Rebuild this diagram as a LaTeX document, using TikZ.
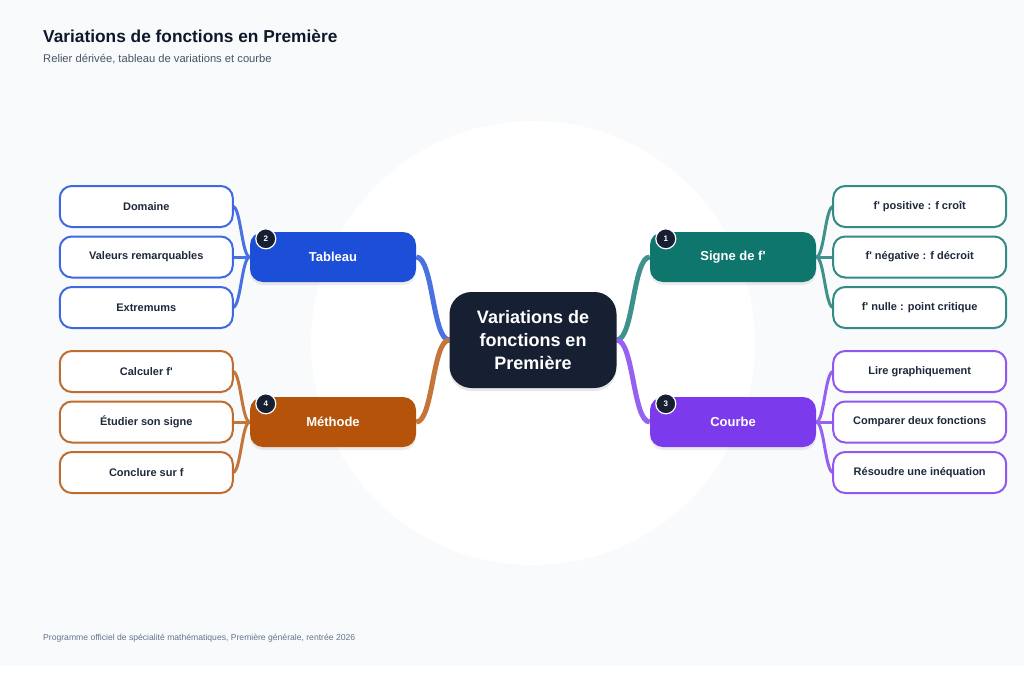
\documentclass[tikz,border=0pt]{standalone}
\usepackage{fontspec}
\setmainfont{Liberation Sans}
\usepackage{xcolor}
\usetikzlibrary{positioning, calc, shadows}
\definecolor{pagebg}{HTML}{F8FAFC}
\definecolor{ink}{HTML}{0F172A}
\definecolor{hub}{HTML}{172033}
\definecolor{subgray}{HTML}{475569}
\definecolor{footgray}{HTML}{64748B}
\definecolor{leafink}{HTML}{1E293B}
\definecolor{cblue}{HTML}{1D4ED8}
\definecolor{cteal}{HTML}{0F766E}
\definecolor{cbrown}{HTML}{B45309}
\definecolor{cviolet}{HTML}{7C3AED}
\newcommand{\apos}{\textquotesingle}
\pgfdeclarelayer{back}
\pgfdeclarelayer{links}
\pgfsetlayers{back,links,main}

\begin{document}
\begin{tikzpicture}[x=1pt,y=1pt,
 node distance=9.5pt and 17pt,
 hubbox/.style={rectangle,rounded corners=22pt,fill=hub,text=white,
   minimum width=167pt,minimum height=96pt,align=center,
   font=\fontsize{18}{23}\selectfont\bfseries,
   drop shadow={opacity=.18,shadow xshift=0pt,shadow yshift=-3pt}},
 branchbox/.style={rectangle,rounded corners=13pt,text=white,
   minimum width=166pt,minimum height=50pt,
   font=\fontsize{13}{15}\selectfont\bfseries,
   drop shadow={opacity=.15,shadow xshift=0pt,shadow yshift=-3pt}},
 leafbox/.style={rectangle,rounded corners=12pt,fill=white,line width=2pt,
   outer sep=0pt,minimum width=173pt,minimum height=41pt,text=leafink,
   font=\fontsize{11}{13}\selectfont\bfseries},
 badge/.style={circle,fill=hub,draw=white,line width=1.2pt,text=white,
   minimum size=20pt,inner sep=0pt,font=\fontsize{8}{9}\selectfont\bfseries},
 trunk/.style={line width=5pt},
 twig/.style={line width=3pt}]
 \useasboundingbox (0,0) rectangle (1024,-683);
 \begin{pgfonlayer}{back}
  \fill[white] (0,0) rectangle (1024,-683);
  \fill[pagebg] (0,0) rectangle (1024,-666);
  \fill[white] (533,-343) circle (222);
 \end{pgfonlayer}
 % titles
 \node[anchor=base west,inner sep=0pt,text=ink,
   font=\fontsize{17.3}{20}\selectfont\bfseries] (title) at (43,-42)
   {Variations de fonctions en Première};
 \node[anchor=base west,inner sep=0pt,text=subgray,
   font=\fontsize{11.2}{13}\selectfont] (subtitle) at (43,-62)
   {Relier dérivée, tableau de variations et courbe};
 \node[anchor=base west,inner sep=0pt,text=footgray,
   font=\fontsize{8.6}{10}\selectfont] (footer) at (43,-640)
   {Programme officiel de spécialité mathématiques, Première générale, rentrée 2026};
 % centre and branches
 \node[hubbox] (hub) at (533,-340)
   {Variations de\\fonctions en\\Première};
 \node[branchbox,fill=cteal] (sig) at (733,-257) {Signe de f\apos};
 \node[branchbox,fill=cblue] (tab) at (333,-257) {Tableau};
 \node[branchbox,fill=cviolet] (crb) at (733,-422) {Courbe};
 \node[branchbox,fill=cbrown] (meth) at (333,-422) {Méthode};
 \node[badge] (b1) at ($(sig.north west)+(16,-7)$) {1};
 \node[badge] (b2) at ($(tab.north west)+(16,-7)$) {2};
 \node[badge] (b3) at ($(crb.north west)+(16,-7)$) {3};
 \node[badge] (b4) at ($(meth.north west)+(16,-7)$) {4};
 % leaves
 \node[leafbox,draw=cblue!85!white,left=of tab] (vr) {Valeurs remarquables};
 \node[leafbox,draw=cblue!85!white,above=of vr] (dom) {Domaine};
 \node[leafbox,draw=cblue!85!white,below=of vr] (ext) {Extremums};
 \node[leafbox,draw=cbrown!85!white,left=of meth] (etu) {Étudier son signe};
 \node[leafbox,draw=cbrown!85!white,above=of etu] (calc) {Calculer f\apos};
 \node[leafbox,draw=cbrown!85!white,below=of etu] (concl) {Conclure sur f};
 \node[leafbox,draw=cteal!85!white,right=of sig] (neg) {f\apos{} négative : f décroit};
 \node[leafbox,draw=cteal!85!white,above=of neg] (pos) {f\apos{} positive : f croît};
 \node[leafbox,draw=cteal!85!white,below=of neg] (nul) {f\apos{} nulle : point critique};
 \node[leafbox,draw=cviolet!85!white,right=of crb] (cmp) {Comparer deux fonctions};
 \node[leafbox,draw=cviolet!85!white,above=of cmp] (lire) {Lire graphiquement};
 \node[leafbox,draw=cviolet!85!white,below=of cmp] (ineq) {Résoudre une inéquation};
 % links
 \begin{pgfonlayer}{links}
  \draw[trunk,cblue!80!white] (tab.east) .. controls +(17,0) and +(-17,0) .. (hub.west);
  \draw[trunk,cbrown!80!white] (meth.east) .. controls +(17,0) and +(-17,0) .. (hub.west);
  \draw[trunk,cteal!80!white] (hub.east) .. controls +(17,0) and +(-17,0) .. (sig.west);
  \draw[trunk,cviolet!80!white] (hub.east) .. controls +(17,0) and +(-17,0) .. (crb.west);
  \foreach \l in {dom,vr,ext}
   \draw[twig,cblue!80!white] (\l.east) .. controls +(8,0) and +(-8,0) .. (tab.west);
  \foreach \l in {calc,etu,concl}
   \draw[twig,cbrown!80!white] (\l.east) .. controls +(8,0) and +(-8,0) .. (meth.west);
  \foreach \l in {pos,neg,nul}
   \draw[twig,cteal!80!white] (sig.east) .. controls +(8,0) and +(-8,0) .. (\l.west);
  \foreach \l in {lire,cmp,ineq}
   \draw[twig,cviolet!80!white] (crb.east) .. controls +(8,0) and +(-8,0) .. (\l.west);
 \end{pgfonlayer}
\end{tikzpicture}
\end{document}
